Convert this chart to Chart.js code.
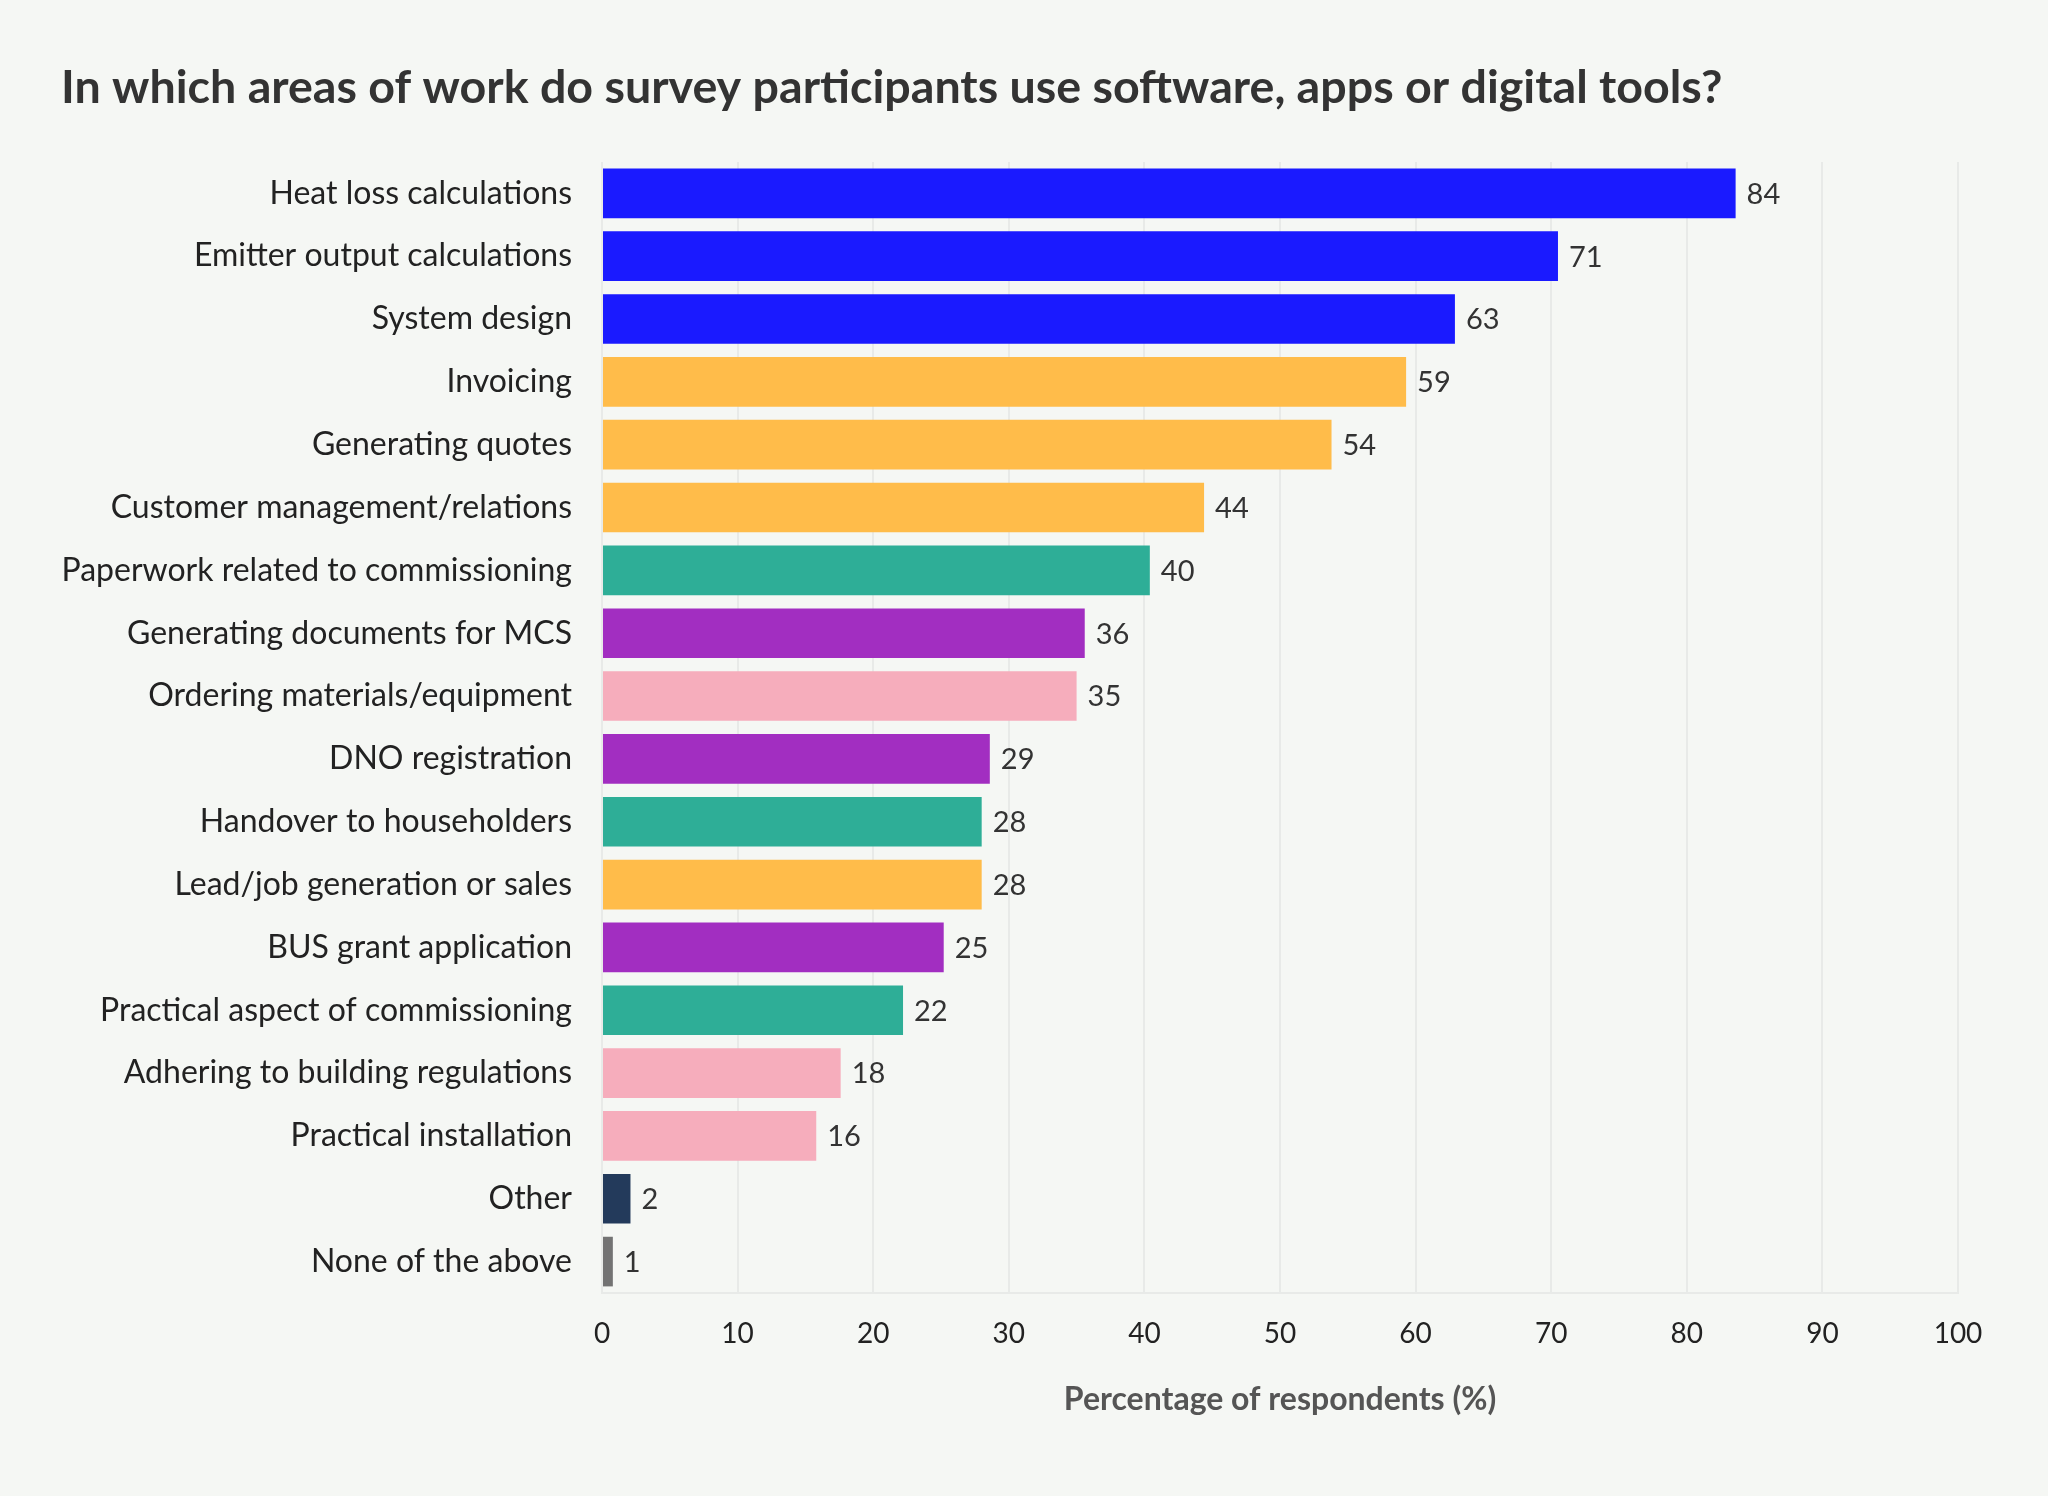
<!DOCTYPE html>
<html lang="en">

<head>
  <meta charset="UTF-8">
  <title>Software use by area of work</title>
  <script src="https://cdn.jsdelivr.net/npm/chart.js"></script>
  <style>
    body {
      margin: 0;
      background: #f5f7f4;
    }

    #grafico {
      display: block;
    }
  </style>
</head>

<body>
  <canvas id="grafico" width="2048" height="1496"></canvas>

  <script>
    // dados
    const areas = [
      'Heat loss calculations',
      'Emitter output calculations',
      'System design',
      'Invoicing',
      'Generating quotes',
      'Customer management/relations',
      'Paperwork related to commissioning',
      'Generating documents for MCS',
      'Ordering materials/equipment',
      'DNO registration',
      'Handover to householders',
      'Lead/job generation or sales',
      'BUS grant application',
      'Practical aspect of commissioning',
      'Adhering to building regulations',
      'Practical installation',
      'Other',
      'None of the above'
    ];

    const percentuais = [83.6, 70.5, 62.9, 59.3, 53.8, 44.4, 40.4, 35.6, 35.0, 28.6, 28.0, 28.0, 25.2, 22.2, 17.6, 15.8, 2.1, 0.8];

    const grupos = ['design', 'design', 'design', 'business', 'business', 'business', 'commissioning', 'admin', 'install',
      'admin', 'commissioning', 'business', 'admin', 'commissioning', 'install', 'install', 'other', 'none'];

    const xTicks = [0, 10, 20, 30, 40, 50, 60, 70, 80, 90, 100];

    const coresGrupo = {
      design: '#1a1aff',
      business: '#ffbc4a',
      commissioning: '#2eae97',
      admin: '#a22ec1',
      install: '#f6adbc',
      other: '#233a5b',
      none: '#737373'
    };

    // escreve o valor no fim de cada barra
    const rotulosValor = {
      id: 'rotulosValor',
      afterDatasetsDraw(chart) {
        const ctx = chart.ctx;
        const meta = chart.getDatasetMeta(0);
        ctx.save();
        ctx.font = '400 29px Lato';
        ctx.fillStyle = '#333333';
        ctx.textAlign = 'left';
        ctx.textBaseline = 'middle';
        meta.data.forEach((barra, i) => {
          ctx.fillText(Math.round(percentuais[i]), barra.x + 11, barra.y + 1);
        });
        ctx.restore();
      }
    };

    const grafico = new Chart(document.getElementById('grafico'), {
      type: 'bar',
      data: {
        labels: areas,
        datasets: [{
          data: percentuais,
          backgroundColor: grupos.map(g => coresGrupo[g]),
          borderWidth: 0,
          categoryPercentage: 1,
          barPercentage: 0.79
        }]
      },
      options: {
        indexAxis: 'y',
        responsive: false,
        animation: false,
        devicePixelRatio: 1,
        layout: {
          padding: { left: 61, right: 90, top: 0, bottom: 77 }
        },
        plugins: {
          legend: { display: false },
          tooltip: { enabled: false },
          title: {
            display: true,
            text: 'In which areas of work do survey participants use software, apps or digital tools?',
            align: 'start',
            color: '#333333',
            font: { family: 'Lato', size: 46.6, weight: '700' },
            padding: { top: 60, bottom: 46 }
          }
        },
        scales: {
          x: {
            min: 0,
            max: 100,
            afterBuildTicks(scale) {
              scale.ticks = xTicks.map(v => ({ value: v }));
            },
            afterFit(scale) {
              scale.height = 126;
            },
            grid: {
              color: '#e8eae8',
              lineWidth: 2,
              drawTicks: false
            },
            border: { display: true, color: '#e8eae8', width: 2 },
            ticks: {
              color: '#222222',
              padding: 24,
              font: { family: 'Lato', size: 28 }
            },
            title: {
              display: true,
              text: 'Percentage of respondents (%)',
              color: '#555555',
              padding: { top: 0, bottom: 0 },
              font: { family: 'Lato', size: 32, weight: '700' }
            }
          },
          y: {
            afterFit(scale) {
              scale.width = 541;
            },
            grid: { display: false, drawTicks: false },
            border: { display: false },
            ticks: {
              color: '#222222',
              padding: 30,
              autoSkip: false,
              font: { family: 'Lato', size: 32 }
            }
          }
        }
      },
      plugins: [rotulosValor]
    });
  </script>
</body>

</html>
